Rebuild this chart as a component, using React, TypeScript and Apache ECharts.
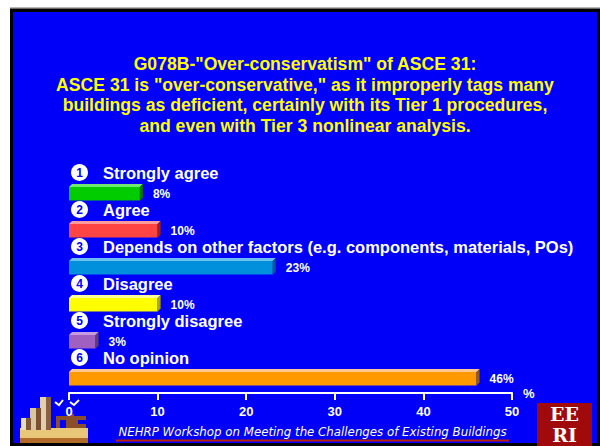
import React, { useEffect, useRef } from "react";
import * as echarts from "echarts";

const titleLines = [
  'G078B-"Over-conservatism" of ASCE 31:',
  'ASCE 31 is "over-conservative," as it improperly tags many',
  "buildings as deficient, certainly with its Tier 1 procedures,",
  "and even with Tier 3 nonlinear analysis.",
];
const categories = [
  "Strongly agree",
  "Agree",
  "Depends on other factors (e.g. components, materials, POs)",
  "Disagree",
  "Strongly disagree",
  "No opinion",
];
const values = [8, 10, 23, 10, 3, 46];
const axisMin = 0;
const axisMax = 50;
const axisStep = 10;
const axisName = "%";
const footerText = "NEHRP Workshop on Meeting the Challenges of Existing Buildings";

const barColors = [
  { front: "#00cc00", top: "#70e870", side: "#007a00" },
  { front: "#ff4444", top: "#ff9a9a", side: "#a02020" },
  { front: "#0090dc", top: "#6cc0f0", side: "#005a8c" },
  { front: "#ffff00", top: "#ffff99", side: "#a8a800" },
  { front: "#a060c0", top: "#c89ae0", side: "#5e3a78" },
  { front: "#ff9900", top: "#ffc890", side: "#9a5c00" },
];

const FONT = "'Liberation Sans', Arial, sans-serif";

export default function App() {
  const ref = useRef<HTMLDivElement>(null);
  useEffect(() => {
    if (!ref.current) return;
    const chart = echarts.init(ref.current, null, { renderer: "svg" });
    const D = 3; // 3D depth
    const option: any = {
      animation: false,
      backgroundColor: "#ffffff",
      grid: { left: 69, right: 88, top: 171, bottom: 53 },
      xAxis: {
        type: "value",
        min: axisMin,
        max: axisMax,
        interval: axisStep,
        name: axisName,
        nameLocation: "end",
        nameGap: 11,
        nameTextStyle: {
          color: "#ffffff",
          fontFamily: FONT,
          fontWeight: "bold",
          fontSize: 13,
          verticalAlign: "middle",
          padding: [0, 0, 4, 0],
        },
        axisLine: { show: true, lineStyle: { color: "#ffffff", width: 2 } },
        axisTick: { show: true, length: 7, lineStyle: { color: "#ffffff", width: 2 } },
        splitLine: { show: false },
        axisLabel: {
          color: "#ffffff",
          fontFamily: FONT,
          fontWeight: "bold",
          fontSize: 13,
          margin: 12,
        },
      },
      yAxis: {
        type: "category",
        data: categories,
        inverse: true,
        show: false,
      },
      graphic: [
        { type: "rect", z: -10, shape: { x: 10, y: 7, width: 590, height: 1.5 }, style: { fill: "#b8b8b8" } },
        { type: "rect", z: -10, shape: { x: 10, y: 8.5, width: 590, height: 438 }, style: { fill: "#000000" } },
        { type: "rect", z: -9, shape: { x: 13, y: 12, width: 584, height: 431 }, style: { fill: "#0000fa" } },
        {
          type: "text",
          z: 5,
          x: 305,
          y: 53.5,
          style: {
            text: titleLines.join("\n"),
            fill: "#ffff00",
            font: `bold 17.6px ${FONT}`,
            align: "center",
            verticalAlign: "top",
            lineHeight: 20.7,
          },
        },
        // footer
        {
          type: "text",
          z: 5,
          x: 312.5,
          y: 432,
          style: {
            text: footerText,
            fill: "#ffffff",
            font: `italic 11.8px 'DejaVu Sans', Verdana, sans-serif`,
            align: "center",
            verticalAlign: "middle",
          },
        },
        { type: "rect", z: 5, shape: { x: 116, y: 439.5, width: 393, height: 2 }, style: { fill: "#c02000" } },
        // EERI logo
        {
          type: "group",
          z: 5,
          children: [
            { type: "rect", shape: { x: 537, y: 403, width: 55, height: 43 }, style: { fill: "#a00a0a" } },
            {
              type: "text",
              x: 564.5,
              y: 405,
              style: { text: "EE", fill: "#ffffff", font: `bold 19px 'DejaVu Serif', 'Liberation Serif', serif`, align: "center", verticalAlign: "top", lineHeight: 18 },
            },
            {
              type: "text",
              x: 564.5,
              y: 426,
              style: { text: "RI", fill: "#ffffff", font: `bold 19px 'DejaVu Serif', 'Liberation Serif', serif`, align: "center", verticalAlign: "top", lineHeight: 18 },
            },
          ],
        },
        // ATC logo (approximation)
        {
          type: "group",
          z: -5,
          children: [
            { type: "rect", shape: { x: 20, y: 428, width: 68, height: 15 }, style: { fill: "#e8c878" } },
            { type: "rect", shape: { x: 20, y: 438, width: 68, height: 5 }, style: { fill: "#b06a28" } },
            { type: "rect", shape: { x: 40, y: 397, width: 11, height: 33 }, style: { fill: "#e0d0b0" } },
            { type: "rect", shape: { x: 46, y: 397, width: 5, height: 33 }, style: { fill: "#8a6040" } },
            { type: "rect", shape: { x: 30, y: 408, width: 11, height: 22 }, style: { fill: "#d8c4a0" } },
            { type: "rect", shape: { x: 36, y: 408, width: 5, height: 22 }, style: { fill: "#7a5030" } },
            { type: "rect", shape: { x: 21, y: 418, width: 10, height: 12 }, style: { fill: "#e8dcc0" } },
            { type: "rect", shape: { x: 26, y: 418, width: 5, height: 12 }, style: { fill: "#805838" } },
            { type: "rect", shape: { x: 56, y: 416, width: 30, height: 12 }, style: { fill: "#8a4e2a" } },
            { type: "rect", shape: { x: 60, y: 420, width: 6, height: 8 }, style: { fill: "#0000fa" } },
            { type: "rect", shape: { x: 71, y: 414, width: 3, height: 4 }, style: { fill: "#8a4e2a" } },
            { type: "rect", shape: { x: 78, y: 420, width: 8, height: 4 }, style: { fill: "#0000fa" } },
            { type: "polyline", shape: { points: [[55, 402], [59, 405], [63, 400]] }, style: { stroke: "#ffffff", lineWidth: 2, fill: "none" } },
            { type: "polyline", shape: { points: [[70, 402], [74, 405], [79, 400]] }, style: { stroke: "#ffffff", lineWidth: 2, fill: "none" } },
          ],
        },
      ],
      series: [
        {
          type: "custom",
          coordinateSystem: "cartesian2d",
          encode: { x: 0, y: 1 },
          data: values.map((v, i) => [v, i]),
          z: 3,
          renderItem: (params: any, api: any) => {
            const i = api.value(1);
            const v = api.value(0);
            const [x0, yc] = api.coord([0, i]);
            const [x1] = api.coord([v, i]);
            const c = barColors[i % barColors.length];
            const ft = yc - 2.5;
            const fb = yc + 11;
            const ly = yc - 17;
            return {
              type: "group",
              children: [
                { type: "rect", shape: { x: x0, y: ft, width: x1 - x0, height: fb - ft }, style: { fill: c.front } },
                {
                  type: "polygon",
                  shape: { points: [[x0, ft], [x0 + D, ft - D], [x1 + D, ft - D], [x1, ft]] },
                  style: { fill: c.top },
                },
                {
                  type: "polygon",
                  shape: { points: [[x1, ft], [x1 + D, ft - D], [x1 + D, fb - D], [x1, fb]] },
                  style: { fill: c.side },
                },
                {
                  type: "text",
                  x: x1 + 13,
                  y: yc + 4,
                  style: {
                    text: `${v}%`,
                    fill: "#ffffff",
                    font: `bold 12px ${FONT}`,
                    align: "left",
                    verticalAlign: "middle",
                    lineHeight: 12,
                  },
                },
                { type: "circle", shape: { cx: x0 + 10.5, cy: ly, r: 8.5 }, style: { fill: "#ffffff" } },
                {
                  type: "text",
                  x: x0 + 10.5,
                  y: ly + 0.5,
                  style: {
                    text: String(i + 1),
                    fill: "#0000fa",
                    font: `bold 12px ${FONT}`,
                    align: "center",
                    verticalAlign: "middle",
                    lineHeight: 12,
                  },
                },
                {
                  type: "text",
                  x: x0 + 34,
                  y: ly,
                  style: {
                    text: categories[i],
                    fill: "#ffffff",
                    font: `bold 16.5px ${FONT}`,
                    align: "left",
                    verticalAlign: "middle",
                    lineHeight: 16,
                  },
                },
              ],
            };
          },
        },
      ],
    };
    chart.setOption(option);
    return () => chart.dispose();
  }, []);
  return (
    <div
      ref={ref}
      style={{ position: "fixed", left: 0, top: 0, width: 600, height: 446 }}
    />
  );
}
